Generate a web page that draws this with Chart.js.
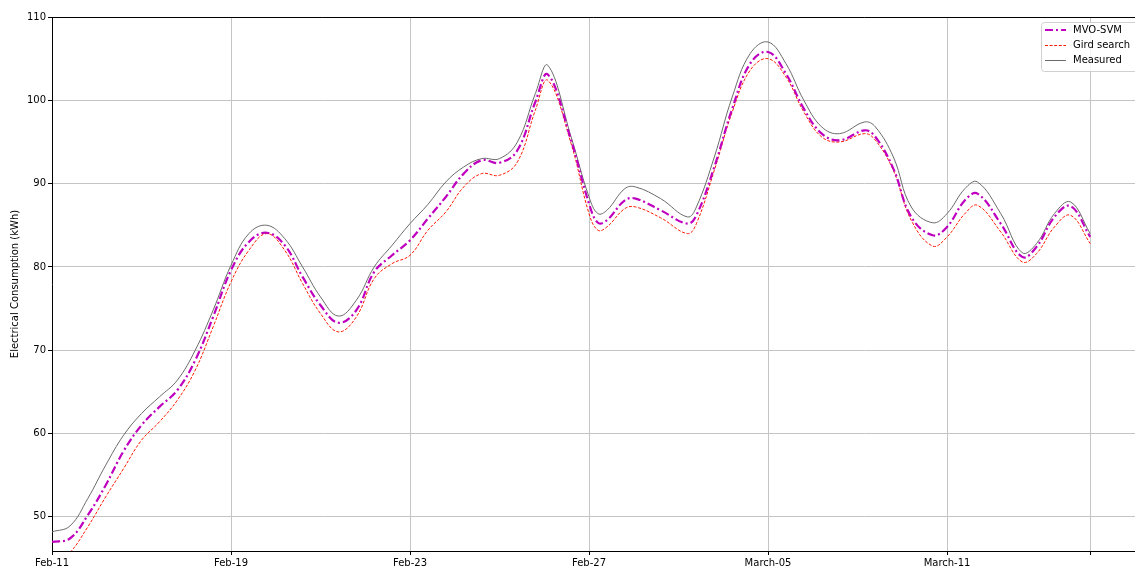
<!DOCTYPE html>
<html>
<head>
<meta charset="utf-8">
<script src="https://cdn.jsdelivr.net/npm/chart.js@4/dist/chart.umd.min.js"></script>
<style>
  html, body { margin: 0; padding: 0; background: #fff; }
</style>
</head>
<body>
<canvas id="chart" width="1135" height="566"></canvas>
<script>
// sample positions (day index, 0 = Feb-11)
const xs = [0, 0.5, 1, 1.5, 2, 2.5, 3, 3.5, 4, 4.5, 5, 5.5, 6, 6.5, 7, 7.5, 8, 8.5, 9, 9.5,
  10, 10.5, 11, 11.5, 12, 12.5, 13, 13.5, 13.85, 14.5, 15, 15.25, 15.5, 16, 16.3, 17, 17.75, 18, 18.5, 19,
  19.5, 20, 20.5, 21, 21.5, 22, 22.7, 23, 23.5, 24, 24.6, 25, 25.5, 25.85, 26.5, 27.1, 27.5, 28, 28.45, 29];

const mvoSvm = [47.0, 47.4, 50.2, 53.8, 57.9, 61.0, 63.2, 65.2, 68.8, 74.0, 79.6, 83.0, 84.1, 82.6, 78.8, 75.4, 73.3, 74.8, 79.4, 81.4,
  83.2, 85.8, 88.4, 91.2, 92.8, 92.5, 94.0, 99.8, 103.1, 95.2, 87.6, 85.3, 85.6, 88.0, 88.2, 86.8, 85.2, 86.2, 92.0, 99.0,
  104.4, 105.8, 103.2, 99.0, 96.0, 95.2, 96.4, 95.6, 91.8, 86.0, 83.8, 84.8, 88.0, 88.8, 85.2, 81.2, 82.4, 86.0, 87.3, 83.6];

const girdSearch = [44.0, 45.7, 48.8, 52.4, 55.8, 59.2, 61.4, 64.0, 67.6, 72.8, 78.2, 82.0, 84.0, 82.0, 78.0, 74.4, 72.2, 74.0, 78.6, 80.4,
  81.4, 84.4, 86.6, 89.6, 91.2, 91.0, 92.6, 98.8, 102.4, 94.8, 86.4, 84.4, 84.8, 87.0, 87.2, 85.9, 84.0, 85.2, 91.6, 98.6,
  103.6, 105.0, 102.8, 98.6, 95.6, 95.0, 96.0, 95.2, 91.6, 85.6, 82.5, 83.6, 86.4, 87.4, 84.2, 80.6, 81.6, 84.8, 86.2, 82.8];

const measured = [48.2, 48.9, 52.2, 56.2, 59.8, 62.4, 64.4, 66.4, 70.0, 74.8, 80.2, 84.0, 85.0, 83.4, 80.0, 76.4, 74.1, 76.0, 80.0, 82.6,
  85.2, 87.5, 90.2, 92.0, 93.0, 93.0, 95.0, 100.8, 104.2, 95.6, 88.4, 86.4, 86.8, 89.4, 89.6, 88.2, 86.0, 87.2, 93.2, 100.4,
  105.6, 107.0, 104.4, 100.0, 96.8, 96.0, 97.4, 96.8, 93.2, 87.2, 85.3, 86.4, 89.4, 90.2, 86.4, 81.7, 82.8, 86.4, 87.8, 84.0];

const xTickPos = [0, 5, 10, 15, 20, 25, 29];
const xTickLabels = ['Feb-11', 'Feb-19', 'Feb-23', 'Feb-27', 'March-05', 'March-11', ''];
const yTicks = [50, 60, 70, 80, 90, 100, 110];

const FONT = 'DejaVu Sans';

function pts(ys) {
  return xs.map((x, i) => ({ x: x, y: ys[i] }));
}

// top spine like matplotlib
const frame = {
  id: 'frame',
  afterDatasetsDraw(chart) {
    const { ctx, chartArea: a } = chart;
    ctx.save();
    ctx.strokeStyle = '#000';
    ctx.lineWidth = 1;
    ctx.beginPath();
    ctx.moveTo(a.left, a.top + 0.5);
    ctx.lineTo(a.right, a.top + 0.5);
    ctx.stroke();
    ctx.restore();
  }
};

// legend box in the upper right corner
const boxLegend = {
  id: 'boxLegend',
  afterDraw(chart) {
    const ctx = chart.ctx;
    const x0 = 1041, y0 = 22, w = 110, h = 49;
    ctx.save();
    ctx.fillStyle = 'rgba(255,255,255,0.85)';
    ctx.strokeStyle = '#d0d0d0';
    ctx.lineWidth = 1;
    ctx.beginPath();
    ctx.roundRect(x0 + 0.5, y0 + 0.5, w, h, 3);
    ctx.fill();
    ctx.stroke();
    const rows = [30, 45.5, 60.5];
    chart.data.datasets.forEach((ds, i) => {
      const y = rows[i];
      ctx.strokeStyle = ds.borderColor;
      ctx.lineWidth = ds.borderWidth;
      ctx.setLineDash(ds.borderDash || []);
      ctx.beginPath();
      ctx.moveTo(1045, y);
      ctx.lineTo(1066, y);
      ctx.stroke();
      ctx.setLineDash([]);
      ctx.fillStyle = '#000';
      ctx.font = '10px "' + FONT + '"';
      ctx.textBaseline = 'middle';
      ctx.fillText(ds.label, 1073, y);
    });
    ctx.restore();
  }
};

new Chart(document.getElementById('chart'), {
  type: 'line',
  data: {
    datasets: [{
      label: 'MVO-SVM',
      data: pts(mvoSvm),
      borderColor: '#bf00bf',
      borderWidth: 2.2,
      borderDash: [8, 3, 2, 3],
      pointRadius: 0,
      tension: 0.4,
      clip: 0
    }, {
      label: 'Gird search',
      data: pts(girdSearch),
      borderColor: '#ff1a00',
      borderWidth: 1,
      borderDash: [3, 1.6],
      pointRadius: 0,
      tension: 0.4,
      clip: 0
    }, {
      label: 'Measured',
      data: pts(measured),
      borderColor: '#6a6a6a',
      borderWidth: 1,
      pointRadius: 0,
      tension: 0.4,
      clip: 0
    }]
  },
  options: {
    responsive: false,
    animation: false,
    devicePixelRatio: 1,
    layout: { padding: { top: 17, right: 0, left: 0, bottom: 0 } },
    plugins: { legend: { display: false }, tooltip: { enabled: false } },
    scales: {
      x: {
        type: 'linear',
        min: 0,
        max: 30.25,
        afterBuildTicks: s => { s.ticks = xTickPos.map(v => ({ value: v })); },
        afterFit: s => { s.height = 15; },
        ticks: {
          autoSkip: false,
          maxRotation: 0,
          padding: 2,
          color: '#000',
          font: { family: FONT, size: 10 },
          callback: v => { const i = xTickPos.indexOf(v); return i >= 0 ? xTickLabels[i] : ''; }
        },
        grid: { color: '#c4c4c4', lineWidth: 1, tickLength: 4, tickColor: '#000', tickWidth: 1 },
        border: { display: true, color: '#000', width: 1 }
      },
      y: {
        min: 45.9,
        max: 110,
        afterBuildTicks: s => { s.ticks = yTicks.map(v => ({ value: v })); },
        afterFit: s => { s.width = 52; },
        ticks: {
          padding: 2,
          color: '#000',
          font: { family: FONT, size: 10 }
        },
        title: {
          display: true,
          text: 'Electrical Consumption (kWh)',
          color: '#000',
          font: { family: FONT, size: 10 },
          padding: { top: 9, bottom: 0 }
        },
        grid: { color: '#c4c4c4', lineWidth: 1, tickLength: 4, tickColor: '#000', tickWidth: 1 },
        border: { display: true, color: '#000', width: 1 }
      }
    }
  },
  plugins: [frame, boxLegend]
});
</script>
</body>
</html>
